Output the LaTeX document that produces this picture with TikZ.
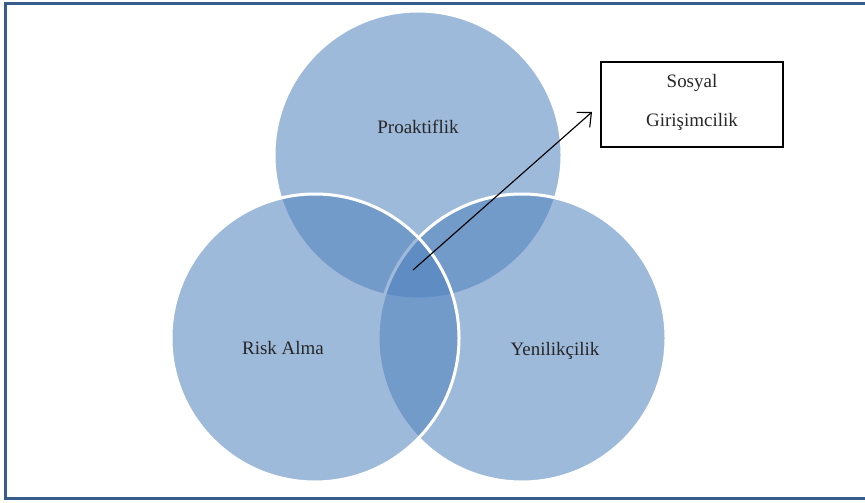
\documentclass[tikz,border=0pt]{standalone}
\usepackage{fontspec}
\setmainfont{Liberation Serif}
\usetikzlibrary{arrows.meta}
\definecolor{frameblue}{RGB}{56,93,138}
\definecolor{vennblue}{RGB}{79,129,189}
\definecolor{textgray}{RGB}{38,38,38}
\begin{document}
\begin{tikzpicture}[>=latex,thick,
  venn/.style={circle,minimum size=5.76cm,inner sep=0pt,fill=vennblue,fill opacity=0.55,draw=white,line width=0.06cm},
  lbl/.style={text=textgray,font=\fontsize{10.8}{13}\selectfont},
  target/.style={draw=black,line width=0.6pt,text=textgray,align=center,minimum width=3.64cm,minimum height=1.70cm,inner sep=0pt,font=\fontsize{10.8}{22}\selectfont}]
  \useasboundingbox (0,0) rectangle (17.3,10.04);
  % Frame (right side runs off the page)
  \draw[frameblue,line width=0.06cm] (18,0.07) -- (0.11,0.07) -- (0.11,9.97) -- (18,9.97);

  % Circles
  \node[venn] (proact) at (8.36,6.94) {};
  \node[venn] (innov) at (10.44,3.28) {};
  \node[venn] (risk) at (6.30,3.28) {};

  \node[lbl] (proactlbl) at (8.36,7.50) {Proaktiflik};
  \node[lbl] (risklbl) at (5.66,3.08) {Risk Alma};
  \node[lbl] (innovlbl) at (11.10,3.03) {Yenilikçilik};

  % Result box and arrow
  \node[target] (social) at (13.84,7.95) {Sosyal\\Girişimcilik\rule[-0.17cm]{0pt}{0pt}};
  \coordinate (core) at (8.26,4.64);
  \coordinate (tip) at (11.84,7.80);
  \draw[-{Straight Barb[length=2.2mm,width=4mm]},line width=0.65pt] (core) -- (tip);
\end{tikzpicture}
\end{document}
